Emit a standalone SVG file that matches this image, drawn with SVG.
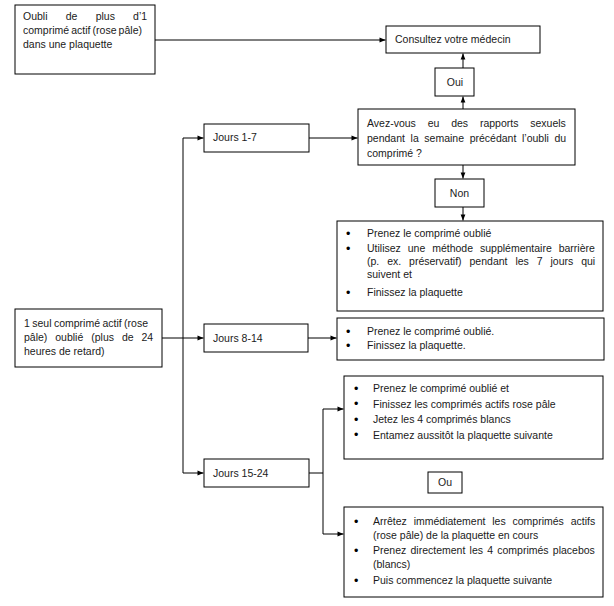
<svg xmlns="http://www.w3.org/2000/svg" width="614" height="606" viewBox="0 0 614 606">
<style>
.bx{fill:#fff;stroke:#000;stroke-width:1}
.t{font-family:"Liberation Sans",Arial,sans-serif;font-size:10.5px;fill:#1a1a1a}
.b{font-family:"Liberation Sans",Arial,sans-serif;font-size:12.5px;fill:#000}
.m{text-anchor:middle}
.c{fill:none;stroke:#000;stroke-width:1}
</style>
<defs>
<marker id="ah" viewBox="0 0 10 10" refX="10" refY="5" markerWidth="7" markerHeight="6" markerUnits="userSpaceOnUse" orient="auto">
<path d="M0,1 L10,5 L0,9 z" fill="#000"/>
</marker>
</defs>
<rect width="614" height="606" fill="#fff"/>
<g id="connectors">
<path class="c" d="M155,40 H385.5" marker-end="url(#ah)"/>
<path class="c" d="M463,109 V96.5" marker-end="url(#ah)"/>
<path class="c" d="M463,68 V53.5" marker-end="url(#ah)"/>
<path class="c" d="M463,165 V178.5" marker-end="url(#ah)"/>
<path class="c" d="M463,207 V220.5" marker-end="url(#ah)"/>
<path class="c" d="M162,338 H203.5" marker-end="url(#ah)"/>
<path class="c" d="M183,138 V473"/>
<path class="c" d="M183,138 H203.5" marker-end="url(#ah)"/>
<path class="c" d="M183,473 H203.5" marker-end="url(#ah)"/>
<path class="c" d="M309,138 H357.5" marker-end="url(#ah)"/>
<path class="c" d="M308,338 H336.5" marker-end="url(#ah)"/>
<path class="c" d="M309,473 H323"/>
<path class="c" d="M323,409 V534"/>
<path class="c" d="M323,409 H343.5" marker-end="url(#ah)"/>
<path class="c" d="M323,534 H343.5" marker-end="url(#ah)"/>
</g>
<g id="n-oubli-plus">
<rect class="bx" x="15" y="5" width="140" height="69"/>
<text class="t" x="23" y="20" word-spacing="15.3">Oubli de plus d’1</text>
<text class="t" x="23" y="34" word-spacing="-0.8">comprimé actif (rose pâle)</text>
<text class="t" x="23" y="48">dans une plaquette</text>
</g>
<g id="n-consultez">
<rect class="bx" x="386" y="26" width="154" height="27"/>
<text class="t" x="395" y="43">Consultez votre médecin</text>
</g>
<g id="n-oui">
<rect class="bx" x="435" y="68" width="39" height="28"/>
<text class="t m" x="455" y="86">Oui</text>
</g>
<g id="n-question">
<rect class="bx" x="358" y="109" width="217" height="56"/>
<text class="t" x="367" y="127" word-spacing="8.9">Avez-vous eu des rapports sexuels</text>
<text class="t" x="367" y="142" word-spacing="2.7">pendant la semaine précédant l’oubli du</text>
<text class="t" x="367" y="157">comprimé ?</text>
</g>
<g id="n-jours1-7">
<rect class="bx" x="204" y="124" width="105" height="28"/>
<text class="t" x="213" y="141">Jours 1-7</text>
</g>
<g id="n-non">
<rect class="bx" x="435" y="179" width="49" height="28"/>
<text class="t m" x="459.5" y="197">Non</text>
</g>
<g id="n-actions1-7">
<rect class="bx" x="337" y="221" width="266" height="90"/>
<text class="b" x="346" y="237.5">•</text>
<text class="t" x="367" y="237">Prenez le comprimé oublié</text>
<text class="b" x="346" y="252.5">•</text>
<text class="t" x="367" y="252" word-spacing="4">Utilisez une méthode supplémentaire barrière</text>
<text class="t" x="367" y="265" word-spacing="5">(p. ex. préservatif) pendant les 7 jours qui</text>
<text class="t" x="367" y="278">suivent et</text>
<text class="b" x="346" y="296.5">•</text>
<text class="t" x="367" y="296">Finissez la plaquette</text>
</g>
<g id="n-un-seul">
<rect class="bx" x="15" y="309" width="147" height="58"/>
<text class="t" x="24" y="327" word-spacing="-0.5">1 seul comprimé actif (rose</text>
<text class="t" x="24" y="341" word-spacing="5">pâle) oublié (plus de 24</text>
<text class="t" x="24" y="355">heures de retard)</text>
</g>
<g id="n-jours8-14">
<rect class="bx" x="204" y="324" width="104" height="28"/>
<text class="t" x="213" y="342">Jours 8-14</text>
</g>
<g id="n-actions8-14">
<rect class="bx" x="337" y="318" width="267" height="42"/>
<text class="b" x="346" y="335.5">•</text>
<text class="t" x="367" y="335">Prenez le comprimé oublié.</text>
<text class="b" x="346" y="349.5">•</text>
<text class="t" x="367" y="349">Finissez la plaquette.</text>
</g>
<g id="n-actions15-24a">
<rect class="bx" x="344" y="376" width="259" height="83"/>
<text class="b" x="354" y="392.5">•</text>
<text class="t" x="373" y="392">Prenez le comprimé oublié et</text>
<text class="b" x="354" y="408">•</text>
<text class="t" x="373" y="407.5">Finissez les comprimés actifs rose pâle</text>
<text class="b" x="354" y="423.5">•</text>
<text class="t" x="373" y="423">Jetez les 4 comprimés blancs</text>
<text class="b" x="354" y="439">•</text>
<text class="t" x="373" y="438.5">Entamez aussitôt la plaquette suivante</text>
</g>
<g id="n-jours15-24">
<rect class="bx" x="204" y="459" width="105" height="28"/>
<text class="t" x="213" y="477">Jours 15-24</text>
</g>
<g id="n-ou">
<rect class="bx" x="428" y="472" width="34" height="21"/>
<text class="t m" x="445" y="486">Ou</text>
</g>
<g id="n-actions15-24b">
<rect class="bx" x="344" y="507" width="259" height="90"/>
<text class="b" x="354" y="525.5">•</text>
<text class="t" x="373" y="525" word-spacing="3.9">Arrêtez immédiatement les comprimés actifs</text>
<text class="t" x="373" y="539">(rose pâle) de la plaquette en cours</text>
<text class="b" x="354" y="554.5">•</text>
<text class="t" x="373" y="554" word-spacing="1.3">Prenez directement les 4 comprimés placebos</text>
<text class="t" x="373" y="568">(blancs)</text>
<text class="b" x="354" y="584.5">•</text>
<text class="t" x="373" y="584">Puis commencez la plaquette suivante</text>
</g>
</svg>
